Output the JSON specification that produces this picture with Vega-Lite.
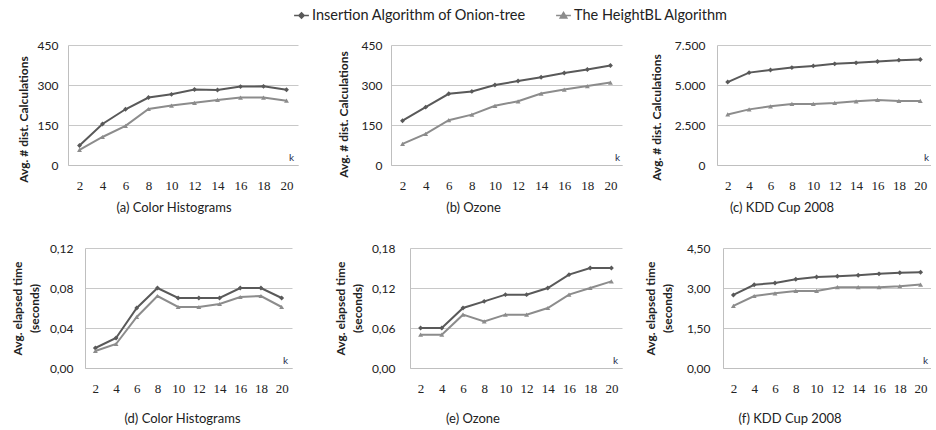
{
  "$schema": "https://vega.github.io/schema/vega-lite/v6.json",
  "padding": {"left": 11, "top": 7, "right": 0, "bottom": 0},
  "background": "white",
  "config": {
    "locale": {"number": {"decimal": ",", "thousands": ".", "grouping": [3], "currency": ["", ""]}},
    "view": {"stroke": null},
    "font": "Lato",
    "axis": {"domainColor": "#bfbfbf", "gridColor": "#c8c8c8", "ticks": false, "tickSize": 0, "labelFont": "Lato", "labelFontSize": 12, "labelColor": "#222222", "titleFont": "Lato", "titleFontSize": 12, "titleColor": "#222222"},
    "axisX": {"labelFont": "Liberation Serif", "labelFontSize": 13, "labelAngle": 0, "labelPadding": 14, "grid": false, "titleFontWeight": "normal", "titleFontSize": 10, "titleBaseline": "middle", "titleAlign": "center", "titleY": -8, "titleColor": "#1f2d4d"},
    "axisY": {"grid": true, "titleFontWeight": "bold", "titleBaseline": "middle"},
    "title": {"orient": "bottom", "font": "Lato", "fontSize": 13, "fontWeight": "normal", "color": "#222222", "anchor": "middle"},
    "legend": {"orient": "none", "legendX": 225, "legendY": -38, "direction": "horizontal", "title": null, "labelFont": "Lato", "labelFontSize": 14.5, "labelColor": "#222222", "columnPadding": 27, "symbolSize": 220, "labelOffset": 2, "padding": 0, "labelLimit": 400}
  },
  "data": {"name": "d"},
  "datasets": {
    "d": [
      {"panel": "a", "k": 2, "algorithm": "Insertion Algorithm of Onion-tree", "value": 73},
      {"panel": "a", "k": 4, "algorithm": "Insertion Algorithm of Onion-tree", "value": 154},
      {"panel": "a", "k": 6, "algorithm": "Insertion Algorithm of Onion-tree", "value": 209},
      {"panel": "a", "k": 8, "algorithm": "Insertion Algorithm of Onion-tree", "value": 253},
      {"panel": "a", "k": 10, "algorithm": "Insertion Algorithm of Onion-tree", "value": 265},
      {"panel": "a", "k": 12, "algorithm": "Insertion Algorithm of Onion-tree", "value": 283},
      {"panel": "a", "k": 14, "algorithm": "Insertion Algorithm of Onion-tree", "value": 281},
      {"panel": "a", "k": 16, "algorithm": "Insertion Algorithm of Onion-tree", "value": 294},
      {"panel": "a", "k": 18, "algorithm": "Insertion Algorithm of Onion-tree", "value": 295},
      {"panel": "a", "k": 20, "algorithm": "Insertion Algorithm of Onion-tree", "value": 282},
      {"panel": "a", "k": 2, "algorithm": "The HeightBL Algorithm", "value": 57},
      {"panel": "a", "k": 4, "algorithm": "The HeightBL Algorithm", "value": 105},
      {"panel": "a", "k": 6, "algorithm": "The HeightBL Algorithm", "value": 147},
      {"panel": "a", "k": 8, "algorithm": "The HeightBL Algorithm", "value": 210},
      {"panel": "a", "k": 10, "algorithm": "The HeightBL Algorithm", "value": 223},
      {"panel": "a", "k": 12, "algorithm": "The HeightBL Algorithm", "value": 233},
      {"panel": "a", "k": 14, "algorithm": "The HeightBL Algorithm", "value": 244},
      {"panel": "a", "k": 16, "algorithm": "The HeightBL Algorithm", "value": 253},
      {"panel": "a", "k": 18, "algorithm": "The HeightBL Algorithm", "value": 253},
      {"panel": "a", "k": 20, "algorithm": "The HeightBL Algorithm", "value": 241},
      {"panel": "b", "k": 2, "algorithm": "Insertion Algorithm of Onion-tree", "value": 166},
      {"panel": "b", "k": 4, "algorithm": "Insertion Algorithm of Onion-tree", "value": 217},
      {"panel": "b", "k": 6, "algorithm": "Insertion Algorithm of Onion-tree", "value": 267},
      {"panel": "b", "k": 8, "algorithm": "Insertion Algorithm of Onion-tree", "value": 276},
      {"panel": "b", "k": 10, "algorithm": "Insertion Algorithm of Onion-tree", "value": 300},
      {"panel": "b", "k": 12, "algorithm": "Insertion Algorithm of Onion-tree", "value": 315},
      {"panel": "b", "k": 14, "algorithm": "Insertion Algorithm of Onion-tree", "value": 329},
      {"panel": "b", "k": 16, "algorithm": "Insertion Algorithm of Onion-tree", "value": 345},
      {"panel": "b", "k": 18, "algorithm": "Insertion Algorithm of Onion-tree", "value": 358},
      {"panel": "b", "k": 20, "algorithm": "Insertion Algorithm of Onion-tree", "value": 373},
      {"panel": "b", "k": 2, "algorithm": "The HeightBL Algorithm", "value": 79},
      {"panel": "b", "k": 4, "algorithm": "The HeightBL Algorithm", "value": 117},
      {"panel": "b", "k": 6, "algorithm": "The HeightBL Algorithm", "value": 168},
      {"panel": "b", "k": 8, "algorithm": "The HeightBL Algorithm", "value": 189},
      {"panel": "b", "k": 10, "algorithm": "The HeightBL Algorithm", "value": 222},
      {"panel": "b", "k": 12, "algorithm": "The HeightBL Algorithm", "value": 239},
      {"panel": "b", "k": 14, "algorithm": "The HeightBL Algorithm", "value": 268},
      {"panel": "b", "k": 16, "algorithm": "The HeightBL Algorithm", "value": 283},
      {"panel": "b", "k": 18, "algorithm": "The HeightBL Algorithm", "value": 296},
      {"panel": "b", "k": 20, "algorithm": "The HeightBL Algorithm", "value": 309},
      {"panel": "c", "k": 2, "algorithm": "Insertion Algorithm of Onion-tree", "value": 5183},
      {"panel": "c", "k": 4, "algorithm": "Insertion Algorithm of Onion-tree", "value": 5773},
      {"panel": "c", "k": 6, "algorithm": "Insertion Algorithm of Onion-tree", "value": 5942},
      {"panel": "c", "k": 8, "algorithm": "Insertion Algorithm of Onion-tree", "value": 6089},
      {"panel": "c", "k": 10, "algorithm": "Insertion Algorithm of Onion-tree", "value": 6195},
      {"panel": "c", "k": 12, "algorithm": "Insertion Algorithm of Onion-tree", "value": 6321},
      {"panel": "c", "k": 14, "algorithm": "Insertion Algorithm of Onion-tree", "value": 6384},
      {"panel": "c", "k": 16, "algorithm": "Insertion Algorithm of Onion-tree", "value": 6468},
      {"panel": "c", "k": 18, "algorithm": "Insertion Algorithm of Onion-tree", "value": 6553},
      {"panel": "c", "k": 20, "algorithm": "Insertion Algorithm of Onion-tree", "value": 6595},
      {"panel": "c", "k": 2, "algorithm": "The HeightBL Algorithm", "value": 3160},
      {"panel": "c", "k": 4, "algorithm": "The HeightBL Algorithm", "value": 3477},
      {"panel": "c", "k": 6, "algorithm": "The HeightBL Algorithm", "value": 3666},
      {"panel": "c", "k": 8, "algorithm": "The HeightBL Algorithm", "value": 3814},
      {"panel": "c", "k": 10, "algorithm": "The HeightBL Algorithm", "value": 3814},
      {"panel": "c", "k": 12, "algorithm": "The HeightBL Algorithm", "value": 3877},
      {"panel": "c", "k": 14, "algorithm": "The HeightBL Algorithm", "value": 3982},
      {"panel": "c", "k": 16, "algorithm": "The HeightBL Algorithm", "value": 4067},
      {"panel": "c", "k": 18, "algorithm": "The HeightBL Algorithm", "value": 4003},
      {"panel": "c", "k": 20, "algorithm": "The HeightBL Algorithm", "value": 4003},
      {"panel": "d", "k": 2, "algorithm": "Insertion Algorithm of Onion-tree", "value": 0.020},
      {"panel": "d", "k": 4, "algorithm": "Insertion Algorithm of Onion-tree", "value": 0.030},
      {"panel": "d", "k": 6, "algorithm": "Insertion Algorithm of Onion-tree", "value": 0.060},
      {"panel": "d", "k": 8, "algorithm": "Insertion Algorithm of Onion-tree", "value": 0.080},
      {"panel": "d", "k": 10, "algorithm": "Insertion Algorithm of Onion-tree", "value": 0.070},
      {"panel": "d", "k": 12, "algorithm": "Insertion Algorithm of Onion-tree", "value": 0.070},
      {"panel": "d", "k": 14, "algorithm": "Insertion Algorithm of Onion-tree", "value": 0.070},
      {"panel": "d", "k": 16, "algorithm": "Insertion Algorithm of Onion-tree", "value": 0.080},
      {"panel": "d", "k": 18, "algorithm": "Insertion Algorithm of Onion-tree", "value": 0.080},
      {"panel": "d", "k": 20, "algorithm": "Insertion Algorithm of Onion-tree", "value": 0.070},
      {"panel": "d", "k": 2, "algorithm": "The HeightBL Algorithm", "value": 0.017},
      {"panel": "d", "k": 4, "algorithm": "The HeightBL Algorithm", "value": 0.024},
      {"panel": "d", "k": 6, "algorithm": "The HeightBL Algorithm", "value": 0.051},
      {"panel": "d", "k": 8, "algorithm": "The HeightBL Algorithm", "value": 0.072},
      {"panel": "d", "k": 10, "algorithm": "The HeightBL Algorithm", "value": 0.061},
      {"panel": "d", "k": 12, "algorithm": "The HeightBL Algorithm", "value": 0.061},
      {"panel": "d", "k": 14, "algorithm": "The HeightBL Algorithm", "value": 0.064},
      {"panel": "d", "k": 16, "algorithm": "The HeightBL Algorithm", "value": 0.071},
      {"panel": "d", "k": 18, "algorithm": "The HeightBL Algorithm", "value": 0.072},
      {"panel": "d", "k": 20, "algorithm": "The HeightBL Algorithm", "value": 0.061},
      {"panel": "e", "k": 2, "algorithm": "Insertion Algorithm of Onion-tree", "value": 0.06},
      {"panel": "e", "k": 4, "algorithm": "Insertion Algorithm of Onion-tree", "value": 0.06},
      {"panel": "e", "k": 6, "algorithm": "Insertion Algorithm of Onion-tree", "value": 0.09},
      {"panel": "e", "k": 8, "algorithm": "Insertion Algorithm of Onion-tree", "value": 0.10},
      {"panel": "e", "k": 10, "algorithm": "Insertion Algorithm of Onion-tree", "value": 0.11},
      {"panel": "e", "k": 12, "algorithm": "Insertion Algorithm of Onion-tree", "value": 0.11},
      {"panel": "e", "k": 14, "algorithm": "Insertion Algorithm of Onion-tree", "value": 0.12},
      {"panel": "e", "k": 16, "algorithm": "Insertion Algorithm of Onion-tree", "value": 0.14},
      {"panel": "e", "k": 18, "algorithm": "Insertion Algorithm of Onion-tree", "value": 0.15},
      {"panel": "e", "k": 20, "algorithm": "Insertion Algorithm of Onion-tree", "value": 0.15},
      {"panel": "e", "k": 2, "algorithm": "The HeightBL Algorithm", "value": 0.05},
      {"panel": "e", "k": 4, "algorithm": "The HeightBL Algorithm", "value": 0.05},
      {"panel": "e", "k": 6, "algorithm": "The HeightBL Algorithm", "value": 0.08},
      {"panel": "e", "k": 8, "algorithm": "The HeightBL Algorithm", "value": 0.07},
      {"panel": "e", "k": 10, "algorithm": "The HeightBL Algorithm", "value": 0.08},
      {"panel": "e", "k": 12, "algorithm": "The HeightBL Algorithm", "value": 0.08},
      {"panel": "e", "k": 14, "algorithm": "The HeightBL Algorithm", "value": 0.09},
      {"panel": "e", "k": 16, "algorithm": "The HeightBL Algorithm", "value": 0.11},
      {"panel": "e", "k": 18, "algorithm": "The HeightBL Algorithm", "value": 0.12},
      {"panel": "e", "k": 20, "algorithm": "The HeightBL Algorithm", "value": 0.13},
      {"panel": "f", "k": 2, "algorithm": "Insertion Algorithm of Onion-tree", "value": 2.74},
      {"panel": "f", "k": 4, "algorithm": "Insertion Algorithm of Onion-tree", "value": 3.12},
      {"panel": "f", "k": 6, "algorithm": "Insertion Algorithm of Onion-tree", "value": 3.19},
      {"panel": "f", "k": 8, "algorithm": "Insertion Algorithm of Onion-tree", "value": 3.33},
      {"panel": "f", "k": 10, "algorithm": "Insertion Algorithm of Onion-tree", "value": 3.41},
      {"panel": "f", "k": 12, "algorithm": "Insertion Algorithm of Onion-tree", "value": 3.44},
      {"panel": "f", "k": 14, "algorithm": "Insertion Algorithm of Onion-tree", "value": 3.48},
      {"panel": "f", "k": 16, "algorithm": "Insertion Algorithm of Onion-tree", "value": 3.53},
      {"panel": "f", "k": 18, "algorithm": "Insertion Algorithm of Onion-tree", "value": 3.57},
      {"panel": "f", "k": 20, "algorithm": "Insertion Algorithm of Onion-tree", "value": 3.59},
      {"panel": "f", "k": 2, "algorithm": "The HeightBL Algorithm", "value": 2.33},
      {"panel": "f", "k": 4, "algorithm": "The HeightBL Algorithm", "value": 2.70},
      {"panel": "f", "k": 6, "algorithm": "The HeightBL Algorithm", "value": 2.80},
      {"panel": "f", "k": 8, "algorithm": "The HeightBL Algorithm", "value": 2.89},
      {"panel": "f", "k": 10, "algorithm": "The HeightBL Algorithm", "value": 2.89},
      {"panel": "f", "k": 12, "algorithm": "The HeightBL Algorithm", "value": 3.03},
      {"panel": "f", "k": 14, "algorithm": "The HeightBL Algorithm", "value": 3.03},
      {"panel": "f", "k": 16, "algorithm": "The HeightBL Algorithm", "value": 3.03},
      {"panel": "f", "k": 18, "algorithm": "The HeightBL Algorithm", "value": 3.07},
      {"panel": "f", "k": 20, "algorithm": "The HeightBL Algorithm", "value": 3.13}
    ]
  },
  "bounds": "flush",
  "spacing": 203,
  "vconcat": [
    {
      "bounds": "flush",
      "spacing": 0,
      "hconcat": [
        {
          "width": 230, "height": 120,
          "title": {"text": "(a) Color Histograms", "dx": -9, "offset": 10},
          "transform": [{"filter": "datum.panel == 'a'"}],
          "encoding": {
            "x": {"field": "k", "type": "ordinal", "scale": {"type": "point", "padding": 0.5}, "axis": {"title": "k", "titleX": 223}},
            "y": {"field": "value", "type": "quantitative", "scale": {"domain": [0, 450], "nice": false}, "axis": {"values": [0, 150, 300, 450], "title": "Avg. # dist. Calculations", "labelPadding": 10, "titleX": -45, "titleY": 74}},
            "color": {"field": "algorithm", "type": "nominal", "scale": {"domain": ["Insertion Algorithm of Onion-tree", "The HeightBL Algorithm"], "range": ["#595959", "#8c8c8c"]},
              "legend": {"symbolType": "M-1,0H1M0,-0.36L0.36,0L0,0.36L-0.36,0Z", "encode": {"symbols": {"update": {"shape": {"signal": "datum.value == 'The HeightBL Algorithm' ? 'M-1,0H1M0,-0.42L0.45,0.34L-0.45,0.34Z' : 'M-1,0H1M0,-0.36L0.36,0L0,0.36L-0.36,0Z'"}, "stroke": {"scale": "color", "field": "value"}, "fill": {"scale": "color", "field": "value"}, "strokeWidth": {"value": 1.5}, "opacity": {"value": 1}, "fillOpacity": {"value": 1}}}}}}
          },
          "layer": [
            {"mark": {"type": "line", "strokeWidth": 2}},
            {"mark": {"type": "point", "filled": true, "opacity": 1, "size": 24}, "encoding": {"shape": {"condition": {"test": "datum.algorithm == 'The HeightBL Algorithm'", "value": "triangle-up"}, "value": "diamond"}}}
          ]
        },
        {"width": 93, "height": 120, "data": {"values": []}, "mark": "point", "encoding": {}},
        {
          "width": 231, "height": 120,
          "title": {"text": "(b) Ozone", "dx": -33, "offset": 10},
          "transform": [{"filter": "datum.panel == 'b'"}],
          "encoding": {
            "x": {"field": "k", "type": "ordinal", "scale": {"type": "point", "padding": 0.5}, "axis": {"title": "k", "titleX": 226}},
            "y": {"field": "value", "type": "quantitative", "scale": {"domain": [0, 450], "nice": false}, "axis": {"values": [0, 150, 300, 450], "title": "Avg. # dist. Calculations", "labelPadding": 9, "titleX": -48, "titleY": 69}},
            "color": {"field": "algorithm", "type": "nominal"}
          },
          "layer": [
            {"mark": {"type": "line", "strokeWidth": 2}},
            {"mark": {"type": "point", "filled": true, "opacity": 1, "size": 24}, "encoding": {"shape": {"condition": {"test": "datum.algorithm == 'The HeightBL Algorithm'", "value": "triangle-up"}, "value": "diamond"}}}
          ]
        },
        {"width": 95, "height": 120, "data": {"values": []}, "mark": "point", "encoding": {}},
        {
          "width": 214, "height": 120,
          "title": {"text": "(c) KDD Cup 2008", "dx": -42, "offset": 10},
          "transform": [{"filter": "datum.panel == 'c'"}],
          "encoding": {
            "x": {"field": "k", "type": "ordinal", "scale": {"type": "point", "padding": 0.5}, "axis": {"title": "k", "titleX": 209}},
            "y": {"field": "value", "type": "quantitative", "scale": {"domain": [0, 7500], "nice": false}, "axis": {"values": [0, 2500, 5000, 7500], "format": ",.0f", "title": "Avg. # dist. Calculations", "labelPadding": 12, "titleX": -61, "titleY": 72}},
            "color": {"field": "algorithm", "type": "nominal"}
          },
          "layer": [
            {"mark": {"type": "line", "strokeWidth": 2}},
            {"mark": {"type": "point", "filled": true, "opacity": 1, "size": 24}, "encoding": {"shape": {"condition": {"test": "datum.algorithm == 'The HeightBL Algorithm'", "value": "triangle-up"}, "value": "diamond"}}}
          ]
        }
      ]
    },
    {
      "bounds": "flush",
      "spacing": 0,
      "hconcat": [
        {"width": 17, "height": 120, "data": {"values": []}, "mark": "point", "encoding": {}},
        {
          "width": 207, "height": 120,
          "title": {"text": "(d) Color Histograms", "dx": -6, "offset": 18},
          "transform": [{"filter": "datum.panel == 'd'"}],
          "encoding": {
            "x": {"field": "k", "type": "ordinal", "scale": {"type": "point", "padding": 0.5}, "axis": {"title": "k", "titleX": 200}},
            "y": {"field": "value", "type": "quantitative", "scale": {"domain": [0, 0.12], "nice": false}, "axis": {"values": [0, 0.04, 0.08, 0.12], "format": ".2f", "title": ["Avg. elapsed time", "(seconds)"], "titleLineHeight": 17, "labelPadding": 12, "titleX": -68}},
            "color": {"field": "algorithm", "type": "nominal"}
          },
          "layer": [
            {"mark": {"type": "line", "strokeWidth": 2}},
            {"mark": {"type": "point", "filled": true, "opacity": 1, "size": 24}, "encoding": {"shape": {"condition": {"test": "datum.algorithm == 'The HeightBL Algorithm'", "value": "triangle-up"}, "value": "diamond"}}}
          ]
        },
        {"width": 118, "height": 120, "data": {"values": []}, "mark": "point", "encoding": {}},
        {
          "width": 212, "height": 120,
          "title": {"text": "(e) Ozone", "dx": -43, "offset": 18},
          "transform": [{"filter": "datum.panel == 'e'"}],
          "encoding": {
            "x": {"field": "k", "type": "ordinal", "scale": {"type": "point", "padding": 0.5}, "axis": {"title": "k", "titleX": 205}},
            "y": {"field": "value", "type": "quantitative", "scale": {"domain": [0, 0.18], "nice": false}, "axis": {"values": [0, 0.06, 0.12, 0.18], "format": ".2f", "title": ["Avg. elapsed time", "(seconds)"], "titleLineHeight": 17, "labelPadding": 15, "titleX": -70}},
            "color": {"field": "algorithm", "type": "nominal"}
          },
          "layer": [
            {"mark": {"type": "line", "strokeWidth": 2}},
            {"mark": {"type": "point", "filled": true, "opacity": 1, "size": 24}, "encoding": {"shape": {"condition": {"test": "datum.algorithm == 'The HeightBL Algorithm'", "value": "triangle-up"}, "value": "diamond"}}}
          ]
        },
        {"width": 101, "height": 120, "data": {"values": []}, "mark": "point", "encoding": {}},
        {
          "width": 208, "height": 120,
          "title": {"text": "(f) KDD Cup 2008", "dx": -37, "offset": 18},
          "transform": [{"filter": "datum.panel == 'f'"}],
          "encoding": {
            "x": {"field": "k", "type": "ordinal", "scale": {"type": "point", "padding": 0.5}, "axis": {"title": "k", "titleX": 202}},
            "y": {"field": "value", "type": "quantitative", "scale": {"domain": [0, 4.5], "nice": false}, "axis": {"values": [0, 1.5, 3, 4.5], "format": ".2f", "title": ["Avg. elapsed time", "(seconds)"], "titleLineHeight": 17, "labelPadding": 13, "titleX": -73}},
            "color": {"field": "algorithm", "type": "nominal"}
          },
          "layer": [
            {"mark": {"type": "line", "strokeWidth": 2}},
            {"mark": {"type": "point", "filled": true, "opacity": 1, "size": 24}, "encoding": {"shape": {"condition": {"test": "datum.algorithm == 'The HeightBL Algorithm'", "value": "triangle-up"}, "value": "diamond"}}}
          ]
        }
      ]
    }
  ]
}
